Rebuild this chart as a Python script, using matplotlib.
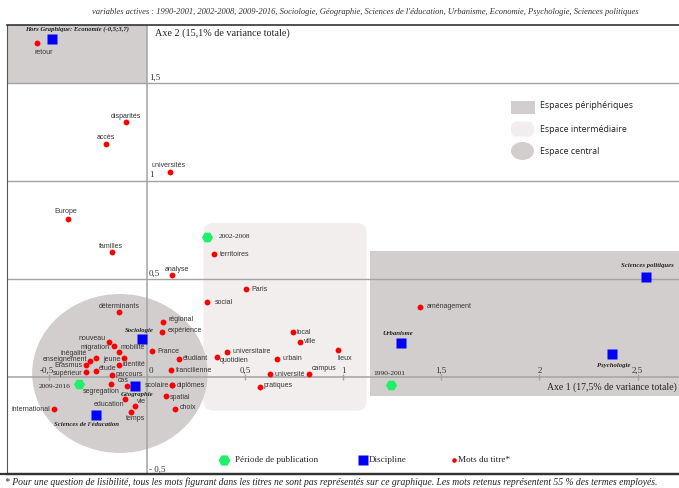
import matplotlib
matplotlib.use("Agg")
import matplotlib.pyplot as plt
from matplotlib.patches import Rectangle, Ellipse, FancyBboxPatch

# Mots du titre (coordonnees sur les axes 1 et 2)
mots = ["déterminants", "régional", "expérience", "nouveau", "migration", "mobilité",
        "France", "inégalité", "enseignement", "Erasmus", "jeune", "identité",
        "étudiant", "supérieur", "étude", "parcours", "francilienne", "segregation",
        "cas", "scolaire", "diplômes", "spatial", "education", "vie", "choix",
        "international", "temps", "Paris", "social", "local", "ville", "universitaire",
        "quotidien", "urbain", "université", "campus", "pratiques", "lieux",
        "territoires", "aménagement", "disparités", "accès", "universités", "Europe",
        "familles", "analyse", "retour"]
mots_x = [-0.142, 0.084, 0.079, -0.194, -0.169, -0.142,
          0.028, -0.260, -0.289, -0.310, -0.116, -0.142,
          0.166, -0.310, -0.259, -0.179, 0.123, -0.182,
          -0.101, 0.128, 0.130, 0.099, -0.113, -0.060, 0.144,
          -0.471, -0.079, 0.507, 0.308, 0.746, 0.779, 0.409,
          0.358, 0.665, 0.630, 0.828, 0.575, 0.974,
          0.344, 1.393, -0.107, -0.206, 0.118, -0.403,
          -0.176, 0.130, -0.561]
mots_y = [0.330, 0.282, 0.230, 0.179, 0.158, 0.129,
          0.131, 0.095, 0.082, 0.063, 0.098, 0.061,
          0.093, 0.024, 0.031, 0.010, 0.036, -0.034,
          -0.046, -0.043, -0.042, -0.095, -0.112, -0.149, -0.162,
          -0.165, -0.179, 0.447, 0.381, 0.228, 0.179, 0.129,
          0.104, 0.092, 0.017, 0.017, -0.053, 0.136,
          0.626, 0.357, 1.299, 1.189, 1.046, 0.805,
          0.636, 0.520, 1.703]

# Disciplines
disciplines = ["Sociologie", "Géographie", "Sciences de l'éducation", "Urbanisme",
               "Psychologie", "Sciences politiques", "Economie"]
disc_x = [-0.026, -0.062, -0.259, 1.293, 2.368, 2.542, -0.484]
disc_y = [0.194, -0.046, -0.192, 0.173, 0.119, 0.512, 1.723]

# Periodes de publication
periodes = ["1990-2001", "2002-2008", "2009-2016"]
per_x = [1.244, 0.308, -0.345]
per_y = [-0.039, 0.714, -0.036]

x_ticks = [-0.5, 0, 0.5, 1, 1.5, 2, 2.5]
x_tick_labels = ["-0,5", "0", "0,5", "1", "1,5", "2", "2,5"]
y_ticks = [-0.5, 0.5, 1, 1.5]
y_tick_labels = ["- 0,5", "0,5", "1", "1,5"]

# placement des etiquettes (decalage en pixels, vers le bas positif)
pos_mots = {
    "déterminants": (0, -6.3, "center"), "régional": (5.4, -2, "left"),
    "expérience": (5, -1, "left"), "nouveau": (-2.7, -3, "right"),
    "migration": (-3.7, 1.7, "right"), "mobilité": (1.7, -4.4, "left"),
    "France": (5.4, 0.4, "left"), "inégalité": (-8.7, -5, "right"),
    "enseignement": (-3.3, -1, "right"), "Erasmus": (-3.3, 1, "right"),
    "jeune": (-3.3, 1.3, "right"), "identité": (3.7, -1, "left"),
    "étudiant": (3.4, 0, "left"), "supérieur": (-3.3, 1.4, "right"),
    "étude": (2.7, -2.7, "left"), "parcours": (3.6, -1, "left"),
    "francilienne": (4.7, 0.3, "left"), "segregation": (-9.7, 8, "center"),
    "cas": (-4, -5.3, "center"), "scolaire": (-3, 0.4, "right"),
    "diplômes": (4.4, 0.4, "left"), "spatial": (3.7, 2, "left"),
    "education": (0, 5.7, "right"), "vie": (1.7, -5, "left"),
    "choix": (5, -1.4, "left"), "international": (-3.6, 0, "right"),
    "temps": (4.7, 6.7, "center"), "Paris": (5.4, 0, "left"),
    "social": (7, 0.4, "left"), "local": (3.7, 0, "left"),
    "ville": (4.6, 0, "left"), "universitaire": (5.3, 0, "left"),
    "quotidien": (3, 4, "left"), "urbain": (5.4, 0, "left"),
    "université": (4, 1, "left"), "campus": (2.7, -5.4, "left"),
    "pratiques": (4, -1.6, "left"), "lieux": (-1, 8, "left"),
    "territoires": (5.7, 0, "left"), "aménagement": (6.7, -0.3, "left"),
    "disparités": (0.3, -5.6, "center"), "accès": (0, -6.3, "center"),
    "universités": (-1.5, -6.3, "center"), "Europe": (-1.7, -7.6, "center"),
    "familles": (-1.3, -5.6, "center"), "analyse": (4.2, -5.7, "center"),
    "retour": (7.3, 9, "center"),
}
pos_disc = {
    "Sociologie": (-2.7, -8), "Géographie": (2.3, 8.7),
    "Sciences de l'éducation": (-9, 10.3), "Urbanisme": (-2.7, -10),
    "Psychologie": (2, 11.6), "Sciences politiques": (1.3, -11),
}
pos_per = {"1990-2001": (-2, -11, "center"), "2002-2008": (11.7, -1, "left"),
           "2009-2016": (-8.3, 2, "right")}

GRIS = "#d3cece"
GRIS_CLAIR = "#f2eeee"
LIGNE = "#a3a3a3"
SERIF = "Liberation Serif"
SANS = "Liberation Sans"

W, H = 679, 488
fig = plt.figure(figsize=(W / 100, H / 100), dpi=100)
ax = fig.add_axes([7 / W, 14 / H, 672 / W, 449 / H])
ax.set_xlim(-0.7122, 2.711)
ax.set_ylim(-0.4949, 1.796)
ax.set_xticks([])
ax.set_yticks([])
ax.spines["right"].set_visible(False)
ax.spines["top"].set_color("#333333")
ax.spines["top"].set_linewidth(1.2)
ax.spines["left"].set_color("#555555")
ax.spines["bottom"].set_color("#333333")
ax.spines["bottom"].set_linewidth(1.6)

# espaces
ax.add_patch(Rectangle((-0.7122, 1.5), 0.7122, 0.3, color=GRIS, lw=0, zorder=1))
ax.add_patch(Rectangle((1.137, -0.097), 1.6, 0.740, color=GRIS, lw=0, zorder=1))
ax.add_patch(FancyBboxPatch((0.288, -0.172), 0.832, 0.958,
                            boxstyle="round,pad=0,rounding_size=0.05",
                            color=GRIS_CLAIR, lw=0, zorder=1))
ax.add_patch(Ellipse((-0.137, 0.018), 0.894, 0.811, color=GRIS, lw=0, zorder=1))

# axes et grille
for yv in [0.5, 1, 1.5]:
    ax.axhline(yv, color=LIGNE, lw=1, zorder=2)
ax.axhline(0, color=LIGNE, lw=1.1, zorder=2)
ax.axvline(0, color=LIGNE, lw=1.1, zorder=2)
ax.plot(x_ticks, [0] * len(x_ticks), "|", color=LIGNE, ms=5, mew=1, zorder=2)

for xv, lab in zip(x_ticks, x_tick_labels):
    dx = 3 if xv == 0 else 0
    if xv == -0.5:
        dx = -1.5
    ax.annotate(lab, (xv, 0), xytext=(dx, 4.5), textcoords="offset points",
                ha="center", va="center", fontsize=6.5, family=SERIF, color="#333333")
for yv, lab in zip(y_ticks, y_tick_labels):
    ax.annotate(lab, (0, yv), xytext=(1.5, 4), textcoords="offset points",
                ha="left", va="center", fontsize=6.5, family=SERIF, color="#333333",
                annotation_clip=False)

ax.annotate("Axe 2 (15,1% de variance totale)", (0, 1.796), xytext=(6, -6),
            textcoords="offset points", ha="left", va="center", fontsize=7.3,
            family=SERIF, color="#222222")
ax.annotate("Axe 1 (17,5% de variance totale)", (2.711, 0), xytext=(-1.5, -7.5),
            textcoords="offset points", ha="right", va="center", fontsize=7,
            family=SERIF, color="#222222")
ax.annotate("Hors Graphique: Economie (-0,5;3,7)", (-0.356, 1.796), xytext=(0, -3),
            textcoords="offset points", ha="center", va="center", fontsize=4.8,
            family=SERIF, style="italic", weight="bold", color="#222222")

# points
ax.plot(mots_x, mots_y, "o", color="#ff0000", ms=4.2, mec="none", zorder=4)
ax.plot(disc_x, disc_y, "s", color="#0000ff", ms=7, mec="none", zorder=4)
ax.plot(per_x, per_y, "H", color="#1ff06a", ms=8, mec="none", zorder=4)

k = 0.72
for m, x, y in zip(mots, mots_x, mots_y):
    dx, dy, ha = pos_mots[m]
    ax.annotate(m, (x, y), xytext=(dx * k, -dy * k), textcoords="offset points",
                ha=ha, va="center", fontsize=5, family=SANS, color="#333333", zorder=5)
for d, x, y in zip(disciplines, disc_x, disc_y):
    if d not in pos_disc:
        continue
    dx, dy = pos_disc[d]
    ax.annotate(d, (x, y), xytext=(dx * k, -dy * k), textcoords="offset points",
                ha="center", va="center", fontsize=4.9, family=SERIF,
                style="italic", weight="bold", color="#222222", zorder=5)
for p, x, y in zip(periodes, per_x, per_y):
    dx, dy, ha = pos_per[p]
    ax.annotate(p, (x, y), xytext=(dx * k, -dy * k), textcoords="offset points",
                ha=ha, va="center", fontsize=5.3, family=SERIF, color="#222222", zorder=5)

# calque en pixels pour legendes et textes
pix = fig.add_axes([0, 0, 1, 1], facecolor="none")
pix.set_xlim(0, W)
pix.set_ylim(H, 0)
pix.axis("off")

pix.text(365, 12, "variables actives : 1990-2001, 2002-2008, 2009-2016, Sociologie, Géographie, "
         "Sciences de l'éducation, Urbanisme, Economie, Psychologie, Sciences politiques",
         ha="center", va="center", fontsize=6.15, family=SERIF, style="italic", color="#333333")
pix.text(5, 482, "* Pour une question de lisibilité, tous les mots figurant dans les titres ne sont "
         "pas représentés sur ce graphique. Les mots retenus représentent 55 % des termes employés.",
         ha="left", va="center", fontsize=6.95, family=SERIF, style="italic", color="#222222")
pix.plot([0, W], [474, 474], color="#333333", lw=1.6)

# legende espaces
pix.add_patch(Rectangle((510.7, 100.7), 24.3, 13, color=GRIS, lw=0))
pix.add_patch(FancyBboxPatch((511, 121.7), 23, 15, boxstyle="round,pad=0,rounding_size=6",
                             color=GRIS_CLAIR, lw=0))
pix.add_patch(Ellipse((522.5, 151), 23, 18, color=GRIS, lw=0))
for ty, lab in zip([106, 129, 151], ["Espaces périphériques", "Espace intermédiaire",
                                     "Espace central"]):
    pix.text(540, ty, lab, ha="left", va="center", fontsize=6.3, family="Open Sans",
             color="#222222")

# legende symboles
pix.plot([224.3], [460], "H", color="#1ff06a", ms=8.5, mec="none")
pix.text(235, 459.5, "Période de publication", ha="left", va="center", fontsize=6.6,
         family=SERIF, color="#222222")
pix.plot([362.8], [460], "s", color="#0000ff", ms=6.5, mec="none")
pix.text(368.3, 459.5, "Discipline", ha="left", va="center", fontsize=6.6,
         family=SERIF, color="#222222")
pix.plot([454], [460], "o", color="#ff0000", ms=3.3, mec="none")
pix.text(457.5, 459.5, "Mots du titre*", ha="left", va="center", fontsize=6.6,
         family=SERIF, color="#222222")

fig.savefig("out.png", dpi=100)
